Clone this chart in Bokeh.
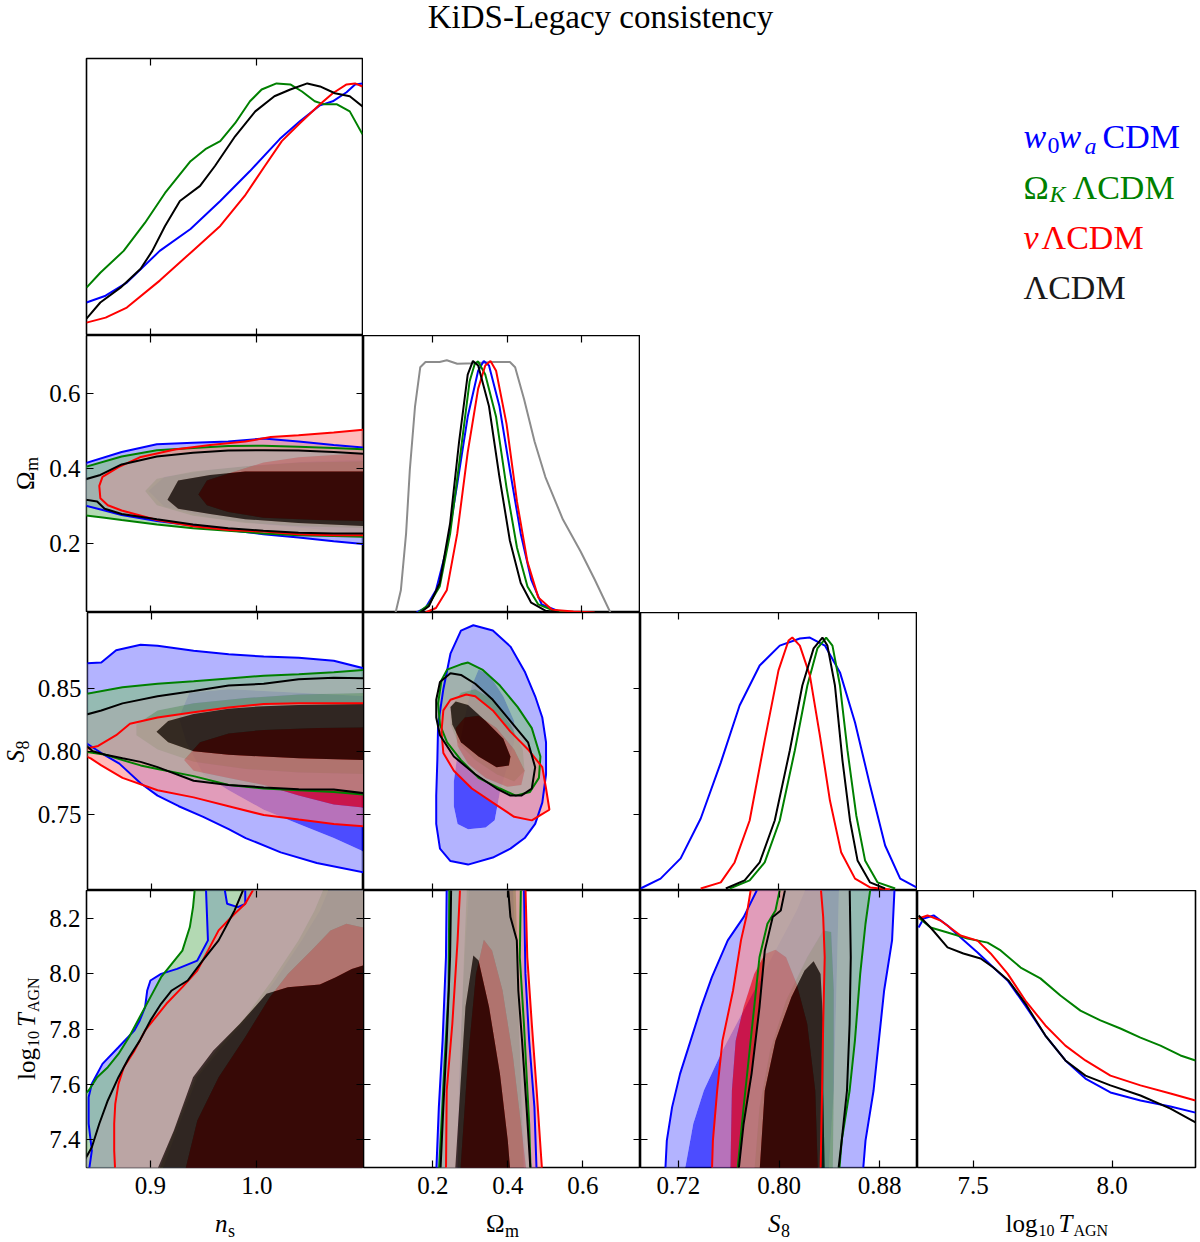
import math
from bokeh.plotting import figure
from bokeh.models import Range1d, LinearAxis, FixedTicker, NumeralTickFormatter, Label, Spacer
from bokeh.layouts import row, column
from bokeh.embed import file_html
from bokeh.resources import INLINE

# ------------------------------------------------------------------ data
TITLE = "KiDS-Legacy consistency"
MODEL_KEYS = ["W0WA", "OK", "NU", "LCDM"]
MODEL_COLORS = ["#0000ff", "#008000", "#ff0000", "#000000"]
MODEL_TINTS = ["#8080ff", "#80c080", "#ff8c8c", "#aaaaaa"]

NS_RANGE = (0.84, 1.10)
OM_RANGE = (0.015, 0.754)
S8_RANGE = (0.690, 0.910)
T_RANGE = (7.30, 8.30)
PDF_RANGE = (0.0, 1.1)

NS_TICKS = [0.9, 1.0]
OM_TICKS = [0.2, 0.4, 0.6]
S8_XTICKS = [0.72, 0.80, 0.88]
S8_YTICKS = [0.75, 0.80, 0.85]
T_YTICKS = [7.4, 7.6, 7.8, 8.0, 8.2]
T_XTICKS = [7.5, 8.0]

# ---- 1D marginals (normalised to peak 1)
PDF_NS_W0WA_X = [0.840, 0.858, 0.878, 0.909, 0.938, 0.966, 0.994, 1.022, 1.041, 1.060, 1.072, 1.085, 1.093, 1.100]
PDF_NS_W0WA_Y = [0.131, 0.158, 0.210, 0.336, 0.423, 0.534, 0.653, 0.780, 0.851, 0.914, 0.930, 0.966, 0.997, 1.001]
PDF_NS_OK_X = [0.840, 0.853, 0.875, 0.895, 0.914, 0.938, 0.952, 0.966, 0.980, 0.994, 1.005, 1.019, 1.032, 1.043, 1.055, 1.064, 1.076, 1.088, 1.100]
PDF_NS_OK_Y = [0.190, 0.249, 0.336, 0.447, 0.566, 0.692, 0.740, 0.772, 0.843, 0.930, 0.977, 1.001, 0.997, 0.969, 0.930, 0.918, 0.918, 0.890, 0.799]
PDF_NS_NU_X = [0.840, 0.858, 0.878, 0.909, 0.940, 0.966, 0.989, 1.008, 1.024, 1.041, 1.060, 1.072, 1.085, 1.093, 1.100]
PDF_NS_NU_Y = [0.051, 0.071, 0.111, 0.218, 0.336, 0.435, 0.554, 0.673, 0.772, 0.843, 0.918, 0.962, 0.997, 1.001, 0.989]
PDF_NS_LCDM_X = [0.840, 0.853, 0.872, 0.891, 0.902, 0.914, 0.928, 0.947, 0.961, 0.980, 0.999, 1.017, 1.032, 1.048, 1.060, 1.074, 1.088, 1.100]
PDF_NS_LCDM_Y = [0.067, 0.131, 0.190, 0.265, 0.336, 0.435, 0.534, 0.594, 0.673, 0.791, 0.890, 0.950, 0.977, 1.001, 0.989, 0.962, 0.950, 0.910]

PRIOR_OM_X = [0.101, 0.115, 0.129, 0.139, 0.153, 0.167, 0.181, 0.219, 0.238, 0.266, 0.313, 0.360, 0.407, 0.421, 0.445, 0.473, 0.502, 0.549, 0.596, 0.634, 0.676]
PRIOR_OM_Y = [0.0, 0.088, 0.313, 0.566, 0.819, 0.974, 0.995, 0.995, 1.002, 0.988, 0.990, 0.995, 0.995, 0.974, 0.847, 0.679, 0.538, 0.369, 0.243, 0.131, 0.0]
PDF_OM_W0WA_X = [0.157, 0.181, 0.209, 0.238, 0.266, 0.294, 0.322, 0.337, 0.351, 0.379, 0.407, 0.436, 0.464, 0.492, 0.539, 0.577]
PDF_OM_W0WA_Y = [0.0, 0.018, 0.088, 0.257, 0.510, 0.777, 0.960, 0.999, 0.981, 0.819, 0.566, 0.313, 0.131, 0.032, 0.004, 0.0]
PDF_OM_OK_X = [0.162, 0.190, 0.219, 0.247, 0.275, 0.299, 0.313, 0.322, 0.341, 0.370, 0.398, 0.426, 0.454, 0.483, 0.530, 0.568]
PDF_OM_OK_Y = [0.0, 0.032, 0.103, 0.313, 0.636, 0.917, 0.988, 0.997, 0.945, 0.777, 0.496, 0.257, 0.103, 0.032, 0.004, 0.0]
PDF_OM_NU_X = [0.181, 0.209, 0.238, 0.266, 0.294, 0.322, 0.341, 0.355, 0.370, 0.398, 0.426, 0.454, 0.483, 0.520, 0.577, 0.634]
PDF_OM_NU_Y = [0.0, 0.018, 0.088, 0.313, 0.636, 0.889, 0.981, 0.999, 0.960, 0.749, 0.440, 0.201, 0.060, 0.011, 0.004, 0.0]
PDF_OM_LCDM_X = [0.167, 0.190, 0.219, 0.247, 0.271, 0.294, 0.308, 0.322, 0.351, 0.379, 0.407, 0.436, 0.464, 0.502, 0.539]
PDF_OM_LCDM_Y = [0.0, 0.025, 0.117, 0.355, 0.679, 0.945, 0.999, 0.981, 0.819, 0.538, 0.285, 0.117, 0.039, 0.007, 0.0]

PDF_S8_W0WA_X = [0.690, 0.706, 0.722, 0.738, 0.754, 0.769, 0.785, 0.801, 0.817, 0.825, 0.837, 0.849, 0.861, 0.873, 0.885, 0.897, 0.910]
PDF_S8_W0WA_Y = [0.008, 0.047, 0.127, 0.285, 0.506, 0.732, 0.890, 0.969, 0.997, 1.001, 0.969, 0.863, 0.665, 0.415, 0.178, 0.047, 0.012]
PDF_S8_OK_X = [0.761, 0.777, 0.789, 0.801, 0.813, 0.823, 0.831, 0.838, 0.843, 0.849, 0.855, 0.862, 0.869, 0.879, 0.893]
PDF_S8_OK_Y = [0.008, 0.040, 0.111, 0.277, 0.554, 0.811, 0.958, 1.001, 0.969, 0.811, 0.554, 0.297, 0.119, 0.032, 0.008]
PDF_S8_NU_X = [0.738, 0.754, 0.765, 0.777, 0.789, 0.800, 0.808, 0.811, 0.817, 0.825, 0.833, 0.841, 0.850, 0.861, 0.873, 0.889]
PDF_S8_NU_Y = [0.008, 0.032, 0.111, 0.277, 0.594, 0.871, 0.989, 1.001, 0.969, 0.851, 0.613, 0.356, 0.150, 0.047, 0.012, 0.004]
PDF_S8_LCDM_X = [0.758, 0.773, 0.785, 0.797, 0.809, 0.819, 0.828, 0.835, 0.839, 0.845, 0.851, 0.857, 0.863, 0.873, 0.885]
PDF_S8_LCDM_Y = [0.008, 0.040, 0.111, 0.277, 0.554, 0.811, 0.958, 1.001, 0.969, 0.811, 0.514, 0.277, 0.119, 0.032, 0.008]

PDF_T_W0WA_X = [7.304, 7.322, 7.358, 7.408, 7.455, 7.516, 7.573, 7.624, 7.688, 7.760, 7.832, 7.904, 7.994, 8.102, 8.210, 8.300]
PDF_T_W0WA_Y = [0.953, 0.989, 1.001, 0.961, 0.913, 0.854, 0.794, 0.743, 0.643, 0.524, 0.425, 0.353, 0.298, 0.266, 0.242, 0.218]
PDF_T_OK_X = [7.304, 7.347, 7.408, 7.480, 7.552, 7.599, 7.671, 7.742, 7.814, 7.886, 7.958, 8.030, 8.102, 8.174, 8.246, 8.300]
PDF_T_OK_Y = [0.993, 0.953, 0.933, 0.909, 0.893, 0.862, 0.794, 0.751, 0.683, 0.623, 0.584, 0.552, 0.516, 0.484, 0.445, 0.425]
PDF_T_NU_X = [7.304, 7.336, 7.383, 7.455, 7.516, 7.563, 7.624, 7.688, 7.760, 7.832, 7.904, 7.994, 8.102, 8.210, 8.300]
PDF_T_NU_Y = [0.989, 1.001, 0.981, 0.921, 0.901, 0.850, 0.770, 0.663, 0.564, 0.484, 0.425, 0.365, 0.326, 0.294, 0.266]
PDF_T_LCDM_X = [7.304, 7.347, 7.408, 7.465, 7.527, 7.573, 7.627, 7.688, 7.760, 7.832, 7.904, 7.994, 8.102, 8.210, 8.300]
PDF_T_LCDM_Y = [1.001, 0.953, 0.874, 0.850, 0.830, 0.794, 0.743, 0.651, 0.524, 0.425, 0.365, 0.326, 0.286, 0.234, 0.179]

# ---- 2D credible regions (95% and 68%); points past the axis limits close open contours
NS_OM_W0WA_95_X = [0.835, 0.873, 0.906, 0.940, 0.973, 1.006, 1.039, 1.072, 1.105, 1.105, 1.072, 1.039, 1.006, 0.973, 0.940, 0.906, 0.873, 0.857, 0.835]
NS_OM_W0WA_95_Y = [0.410, 0.443, 0.464, 0.468, 0.471, 0.479, 0.471, 0.462, 0.454, 0.196, 0.205, 0.215, 0.224, 0.235, 0.247, 0.259, 0.275, 0.287, 0.303]
NS_OM_OK_95_X = [0.835, 0.873, 0.906, 0.940, 0.973, 1.006, 1.039, 1.072, 1.105, 1.105, 1.072, 1.039, 1.006, 0.973, 0.940, 0.906, 0.873, 0.857, 0.835]
NS_OM_OK_95_Y = [0.400, 0.431, 0.448, 0.454, 0.459, 0.460, 0.457, 0.454, 0.450, 0.217, 0.219, 0.221, 0.226, 0.233, 0.240, 0.250, 0.262, 0.268, 0.275]
NS_OM_NU_95_X = [0.852, 0.855, 0.870, 0.890, 0.923, 0.956, 0.989, 1.013, 1.039, 1.072, 1.105, 1.105, 1.072, 1.039, 1.006, 0.973, 0.940, 0.906, 0.873, 0.860, 0.853]
NS_OM_NU_95_Y = [0.353, 0.377, 0.403, 0.429, 0.450, 0.462, 0.471, 0.483, 0.488, 0.495, 0.504, 0.221, 0.221, 0.224, 0.231, 0.235, 0.245, 0.262, 0.287, 0.301, 0.320]
NS_OM_LCDM_95_X = [0.835, 0.853, 0.873, 0.906, 0.940, 0.973, 1.006, 1.039, 1.072, 1.105, 1.105, 1.072, 1.039, 1.006, 0.973, 0.940, 0.906, 0.873, 0.857, 0.850, 0.835]
NS_OM_LCDM_95_Y = [0.367, 0.382, 0.410, 0.431, 0.441, 0.447, 0.448, 0.447, 0.443, 0.438, 0.226, 0.226, 0.228, 0.233, 0.240, 0.250, 0.264, 0.278, 0.292, 0.311, 0.318]
NS_OM_W0WA_68_X = [0.898, 0.913, 0.956, 1.006, 1.056, 1.105, 1.105, 1.056, 1.006, 0.956, 0.913]
NS_OM_W0WA_68_Y = [0.339, 0.377, 0.396, 0.410, 0.419, 0.424, 0.226, 0.237, 0.250, 0.268, 0.297]
NS_OM_OK_68_X = [0.895, 0.906, 0.940, 0.989, 1.039, 1.105, 1.105, 1.039, 0.989, 0.940, 0.906]
NS_OM_OK_68_Y = [0.339, 0.372, 0.391, 0.405, 0.415, 0.419, 0.240, 0.245, 0.254, 0.273, 0.301]
NS_OM_NU_68_X = [0.945, 0.953, 0.973, 1.006, 1.039, 1.072, 1.105, 1.105, 1.056, 1.006, 0.973, 0.953]
NS_OM_NU_68_Y = [0.330, 0.367, 0.386, 0.415, 0.429, 0.435, 0.441, 0.259, 0.262, 0.268, 0.283, 0.301]
NS_OM_LCDM_68_X = [0.916, 0.926, 0.956, 0.989, 1.039, 1.105, 1.105, 1.039, 0.989, 0.956, 0.926]
NS_OM_LCDM_68_Y = [0.316, 0.367, 0.382, 0.391, 0.391, 0.391, 0.245, 0.254, 0.264, 0.278, 0.292]

NS_S8_W0WA_95_X = [0.835, 0.853, 0.867, 0.890, 0.906, 0.940, 0.973, 1.006, 1.039, 1.072, 1.105, 1.105, 1.056, 1.022, 0.989, 0.973, 0.949, 0.926, 0.906, 0.890, 0.870, 0.853, 0.835]
NS_S8_W0WA_95_Y = [0.8696, 0.8704, 0.8802, 0.8844, 0.8836, 0.8797, 0.8769, 0.8752, 0.8741, 0.8718, 0.8648, 0.7036, 0.7118, 0.7202, 0.7315, 0.7385, 0.7483, 0.7567, 0.7651, 0.7749, 0.7904, 0.7988, 0.8087]
NS_S8_OK_95_X = [0.835, 0.873, 0.906, 0.940, 0.973, 1.006, 1.039, 1.072, 1.105, 1.105, 1.072, 1.039, 1.006, 0.973, 0.940, 0.906, 0.890, 0.873, 0.857, 0.835]
NS_S8_OK_95_Y = [0.8451, 0.8508, 0.8536, 0.8555, 0.8578, 0.8600, 0.8611, 0.8628, 0.8648, 0.7657, 0.7679, 0.7693, 0.7707, 0.7735, 0.7805, 0.7862, 0.7890, 0.7932, 0.7974, 0.8002]
NS_S8_NU_95_X = [0.835, 0.850, 0.867, 0.880, 0.906, 0.940, 0.973, 1.006, 1.039, 1.072, 1.105, 1.105, 1.072, 1.039, 1.006, 0.973, 0.940, 0.906, 0.873, 0.853, 0.843, 0.835]
NS_S8_NU_95_Y = [0.8016, 0.8044, 0.8129, 0.8219, 0.8269, 0.8311, 0.8348, 0.8376, 0.8381, 0.8381, 0.8381, 0.7405, 0.7427, 0.7461, 0.7497, 0.7567, 0.7637, 0.7693, 0.7791, 0.7890, 0.7946, 0.7974]
NS_S8_LCDM_95_X = [0.835, 0.853, 0.873, 0.906, 0.940, 0.973, 1.006, 1.039, 1.072, 1.105, 1.105, 1.072, 1.039, 1.006, 0.973, 0.940, 0.906, 0.890, 0.873, 0.857, 0.845, 0.835]
NS_S8_LCDM_95_Y = [0.8283, 0.8325, 0.8381, 0.8437, 0.8479, 0.8522, 0.8536, 0.8572, 0.8584, 0.8578, 0.7665, 0.7699, 0.7702, 0.7716, 0.7735, 0.7769, 0.7876, 0.7918, 0.7946, 0.7974, 0.8002, 0.8073]
NS_S8_W0WA_68_X = [0.926, 0.936, 0.973, 1.006, 1.039, 1.105, 1.105, 1.072, 1.039, 1.006, 0.973, 0.949, 0.933]
NS_S8_W0WA_68_Y = [0.8269, 0.8465, 0.8493, 0.8479, 0.8465, 0.8437, 0.7189, 0.7315, 0.7427, 0.7539, 0.7693, 0.7820, 0.8073]
NS_S8_OK_68_X = [0.886, 0.906, 0.940, 0.989, 1.039, 1.105, 1.105, 1.039, 0.989, 0.940, 0.906, 0.886]
NS_S8_OK_68_Y = [0.8213, 0.8325, 0.8381, 0.8423, 0.8451, 0.8465, 0.7820, 0.7834, 0.7862, 0.7918, 0.8016, 0.8129]
NS_S8_NU_68_X = [0.931, 0.946, 0.973, 1.006, 1.056, 1.105, 1.105, 1.072, 1.039, 1.006, 0.973, 0.940]
NS_S8_NU_68_Y = [0.7932, 0.8073, 0.8143, 0.8171, 0.8185, 0.8190, 0.7553, 0.7581, 0.7651, 0.7735, 0.7791, 0.7848]
NS_S8_LCDM_68_X = [0.905, 0.916, 0.940, 0.973, 1.006, 1.039, 1.105, 1.105, 1.039, 1.006, 0.973, 0.940, 0.916]
NS_S8_LCDM_68_Y = [0.8157, 0.8241, 0.8297, 0.8339, 0.8359, 0.8367, 0.8376, 0.7932, 0.7946, 0.7960, 0.7974, 0.8002, 0.8073]

OM_S8_W0WA_95_X = [0.308, 0.360, 0.407, 0.445, 0.473, 0.492, 0.502, 0.502, 0.492, 0.473, 0.445, 0.407, 0.360, 0.294, 0.247, 0.219, 0.209, 0.209, 0.212, 0.214, 0.228, 0.247, 0.275]
OM_S8_W0WA_95_Y = [0.8999, 0.8957, 0.8830, 0.8634, 0.8437, 0.8269, 0.8073, 0.7820, 0.7595, 0.7427, 0.7315, 0.7231, 0.7161, 0.7105, 0.7133, 0.7231, 0.7427, 0.7651, 0.7932, 0.8213, 0.8493, 0.8774, 0.8957]
OM_S8_OK_95_X = [0.223, 0.238, 0.275, 0.294, 0.332, 0.379, 0.426, 0.464, 0.487, 0.483, 0.459, 0.421, 0.379, 0.322, 0.275, 0.238, 0.219, 0.214]
OM_S8_OK_95_Y = [0.8564, 0.8648, 0.8690, 0.8704, 0.8648, 0.8522, 0.8353, 0.8185, 0.7960, 0.7791, 0.7679, 0.7651, 0.7707, 0.7791, 0.7932, 0.8073, 0.8213, 0.8381]
OM_S8_NU_95_X = [0.228, 0.247, 0.289, 0.313, 0.360, 0.407, 0.454, 0.492, 0.502, 0.511, 0.487, 0.464, 0.417, 0.360, 0.304, 0.256, 0.228, 0.223]
OM_S8_NU_95_Y = [0.8325, 0.8409, 0.8451, 0.8437, 0.8325, 0.8157, 0.8016, 0.7876, 0.7707, 0.7539, 0.7497, 0.7455, 0.7483, 0.7595, 0.7707, 0.7848, 0.7988, 0.8157]
OM_S8_LCDM_95_X = [0.209, 0.219, 0.247, 0.275, 0.313, 0.360, 0.407, 0.454, 0.473, 0.464, 0.436, 0.407, 0.370, 0.313, 0.256, 0.219, 0.209]
OM_S8_LCDM_95_Y = [0.8409, 0.8550, 0.8620, 0.8606, 0.8536, 0.8409, 0.8241, 0.8073, 0.7876, 0.7707, 0.7651, 0.7651, 0.7707, 0.7820, 0.7960, 0.8129, 0.8269]
OM_S8_W0WA_68_X = [0.322, 0.351, 0.388, 0.417, 0.417, 0.398, 0.379, 0.365, 0.341, 0.294, 0.266, 0.256, 0.256, 0.266, 0.285, 0.304]
OM_S8_W0WA_68_Y = [0.8648, 0.8606, 0.8437, 0.8241, 0.8073, 0.7876, 0.7679, 0.7455, 0.7399, 0.7385, 0.7427, 0.7567, 0.7763, 0.7988, 0.8269, 0.8522]
OM_S8_OK_68_X = [0.247, 0.275, 0.313, 0.360, 0.407, 0.440, 0.445, 0.417, 0.370, 0.313, 0.266, 0.247]
OM_S8_OK_68_Y = [0.8353, 0.8465, 0.8493, 0.8409, 0.8213, 0.8016, 0.7848, 0.7763, 0.7820, 0.7932, 0.8073, 0.8213]
OM_S8_NU_68_X = [0.261, 0.285, 0.322, 0.370, 0.417, 0.445, 0.436, 0.398, 0.341, 0.294, 0.266]
OM_S8_NU_68_Y = [0.8185, 0.8269, 0.8283, 0.8185, 0.8016, 0.7848, 0.7735, 0.7721, 0.7791, 0.7904, 0.8044]
OM_S8_LCDM_68_X = [0.247, 0.261, 0.294, 0.341, 0.388, 0.407, 0.403, 0.370, 0.322, 0.275, 0.252]
OM_S8_LCDM_68_Y = [0.8353, 0.8395, 0.8367, 0.8241, 0.8101, 0.7960, 0.7890, 0.7876, 0.7960, 0.8073, 0.8213]

NS_T_W0WA_95_X = [1.105, 0.989, 0.989, 0.982, 0.972, 0.969, 0.952, 0.954, 0.944, 0.925, 0.910, 0.900, 0.897, 0.895, 0.890, 0.885, 0.870, 0.855, 0.845, 0.842, 0.842, 0.845, 0.842, 1.105]
NS_T_W0WA_95_Y = [8.32, 8.32, 8.252, 8.240, 8.252, 8.32, 8.32, 8.120, 8.047, 8.017, 7.999, 7.975, 7.939, 7.879, 7.831, 7.795, 7.734, 7.674, 7.602, 7.554, 7.458, 7.361, 7.28, 7.28]
NS_T_OK_95_X = [0.942, 0.940, 0.937, 0.930, 0.920, 0.910, 0.900, 0.890, 0.880, 0.870, 0.860, 0.850, 0.842, 0.835, 0.835, 1.105, 1.105]
NS_T_OK_95_Y = [8.32, 8.240, 8.168, 8.083, 8.035, 7.987, 7.915, 7.843, 7.771, 7.710, 7.662, 7.626, 7.578, 7.554, 7.28, 7.28, 8.32]
NS_T_NU_95_X = [0.999, 0.989, 0.979, 0.964, 0.954, 0.944, 0.930, 0.915, 0.905, 0.895, 0.885, 0.875, 0.870, 0.867, 0.866, 0.866, 0.867, 1.105, 1.105]
NS_T_NU_95_Y = [8.32, 8.252, 8.216, 8.156, 8.083, 8.011, 7.951, 7.891, 7.843, 7.795, 7.722, 7.662, 7.602, 7.530, 7.458, 7.361, 7.28, 7.28, 8.32]
NS_T_LCDM_95_X = [0.989, 0.979, 0.964, 0.949, 0.935, 0.920, 0.910, 0.900, 0.890, 0.880, 0.870, 0.860, 0.852, 0.845, 0.838, 0.835, 1.105, 1.105]
NS_T_LCDM_95_Y = [8.32, 8.228, 8.120, 8.047, 7.975, 7.939, 7.891, 7.831, 7.758, 7.698, 7.626, 7.542, 7.458, 7.373, 7.325, 7.28, 7.28, 8.32]
NS_T_W0WA_68_X = [0.910, 0.927, 0.944, 0.967, 0.992, 1.017, 1.042, 1.059, 1.069, 1.105, 1.105]
NS_T_W0WA_68_Y = [7.28, 7.458, 7.626, 7.734, 7.843, 7.975, 8.120, 8.228, 8.32, 8.32, 7.28]
NS_T_OK_68_X = [0.907, 0.925, 0.942, 0.964, 0.989, 1.014, 1.039, 1.054, 1.064, 1.105, 1.105]
NS_T_OK_68_Y = [7.28, 7.458, 7.626, 7.734, 7.843, 7.975, 8.120, 8.228, 8.32, 8.32, 7.28]
NS_T_NU_68_X = [0.932, 0.944, 0.964, 0.989, 1.012, 1.029, 1.054, 1.069, 1.084, 1.105, 1.105]
NS_T_NU_68_Y = [7.28, 7.470, 7.626, 7.771, 7.915, 7.999, 8.095, 8.156, 8.180, 8.162, 7.28]
NS_T_LCDM_68_X = [0.905, 0.922, 0.940, 0.959, 0.984, 1.009, 1.029, 1.059, 1.074, 1.089, 1.105, 1.105]
NS_T_LCDM_68_Y = [7.28, 7.434, 7.626, 7.722, 7.819, 7.927, 7.951, 7.961, 7.987, 8.017, 8.035, 7.28]

OM_T_W0WA_95_X = [0.237, 0.235, 0.226, 0.216, 0.209, 0.477, 0.471, 0.457, 0.447, 0.443]
OM_T_W0WA_95_Y = [8.32, 8.059, 7.758, 7.518, 7.28, 7.28, 7.518, 7.758, 7.999, 8.32]
OM_T_OK_95_X = [0.244, 0.242, 0.232, 0.223, 0.216, 0.461, 0.457, 0.443, 0.432, 0.435]
OM_T_OK_95_Y = [8.32, 7.939, 7.698, 7.458, 7.28, 7.28, 7.458, 7.819, 8.059, 8.32]
OM_T_NU_95_X = [0.273, 0.266, 0.252, 0.237, 0.235, 0.492, 0.489, 0.477, 0.464, 0.452, 0.447]
OM_T_NU_95_Y = [8.32, 8.120, 7.819, 7.578, 7.28, 7.28, 7.337, 7.578, 7.819, 8.059, 8.32]
OM_T_LCDM_95_X = [0.249, 0.246, 0.237, 0.228, 0.220, 0.461, 0.450, 0.438, 0.428, 0.424, 0.407, 0.400]
OM_T_LCDM_95_Y = [8.32, 8.059, 7.758, 7.518, 7.28, 7.28, 7.518, 7.758, 7.939, 8.120, 8.204, 8.32]
OM_T_W0WA_68_X = [0.263, 0.273, 0.287, 0.297, 0.414, 0.424, 0.438, 0.450]
OM_T_W0WA_68_Y = [7.28, 7.758, 8.120, 8.32, 8.32, 7.939, 7.578, 7.28]
OM_T_OK_68_X = [0.266, 0.273, 0.283, 0.291, 0.421, 0.428, 0.435, 0.443]
OM_T_OK_68_Y = [7.28, 7.698, 8.059, 8.32, 8.32, 7.939, 7.578, 7.28]
OM_T_NU_68_X = [0.273, 0.294, 0.315, 0.336, 0.358, 0.386, 0.414, 0.435, 0.450]
OM_T_NU_68_Y = [7.28, 7.698, 7.999, 8.122, 8.083, 7.939, 7.698, 7.458, 7.28]
OM_T_LCDM_68_X = [0.259, 0.273, 0.287, 0.308, 0.322, 0.350, 0.379, 0.400, 0.407]
OM_T_LCDM_68_Y = [7.28, 7.578, 7.879, 8.065, 8.047, 7.879, 7.638, 7.397, 7.28]

S8_T_W0WA_95_X = [0.7845, 0.7719, 0.7593, 0.7467, 0.7382, 0.7298, 0.7214, 0.7151, 0.7109, 0.7096, 0.8666, 0.8687, 0.8751, 0.8793, 0.8835, 0.8898, 0.8919]
S8_T_W0WA_95_Y = [8.32, 8.204, 8.120, 7.987, 7.879, 7.758, 7.638, 7.518, 7.397, 7.28, 7.28, 7.397, 7.578, 7.758, 7.939, 8.120, 8.32]
S8_T_OK_95_X = [0.8014, 0.7972, 0.7908, 0.7845, 0.7803, 0.7761, 0.7719, 0.7668, 0.8477, 0.8498, 0.8561, 0.8603, 0.8645, 0.8687, 0.8730]
S8_T_OK_95_Y = [8.32, 8.228, 8.180, 8.059, 7.879, 7.698, 7.518, 7.28, 7.28, 7.397, 7.578, 7.758, 7.999, 8.180, 8.32]
S8_T_NU_95_X = [0.7782, 0.7740, 0.7698, 0.7635, 0.7551, 0.7509, 0.7475, 0.7467, 0.8330, 0.8342, 0.8351, 0.8363, 0.8351, 0.8330]
S8_T_NU_95_Y = [8.32, 8.204, 8.120, 7.939, 7.758, 7.578, 7.397, 7.28, 7.28, 7.578, 7.819, 8.059, 8.204, 8.32]
S8_T_LCDM_95_X = [0.8056, 0.8014, 0.7950, 0.7887, 0.7845, 0.7782, 0.7719, 0.7677, 0.8469, 0.8498, 0.8540, 0.8561, 0.8570, 0.8561]
S8_T_LCDM_95_Y = [8.32, 8.228, 8.204, 8.083, 7.879, 7.638, 7.458, 7.28, 7.28, 7.397, 7.578, 7.819, 8.059, 8.32]
S8_T_W0WA_68_X = [0.7248, 0.7319, 0.7403, 0.7551, 0.7719, 0.7887, 0.8056, 0.8140, 0.8224, 0.8477, 0.8456, 0.8435, 0.8393]
S8_T_W0WA_68_Y = [7.28, 7.458, 7.578, 7.722, 7.867, 8.011, 8.156, 8.228, 8.32, 8.32, 7.939, 7.578, 7.28]
S8_T_OK_68_X = [0.7803, 0.7845, 0.7929, 0.8056, 0.8224, 0.8351, 0.8414, 0.8435, 0.8435, 0.8427]
S8_T_OK_68_Y = [7.28, 7.518, 7.722, 7.903, 8.059, 8.156, 8.150, 7.939, 7.578, 7.28]
S8_T_NU_68_X = [0.7614, 0.7626, 0.7656, 0.7719, 0.7803, 0.7887, 0.7972, 0.8056, 0.8140, 0.8224, 0.8288, 0.8309]
S8_T_NU_68_Y = [7.28, 7.578, 7.758, 7.879, 7.999, 8.071, 8.086, 8.059, 7.963, 7.819, 7.578, 7.28]
S8_T_LCDM_68_X = [0.7845, 0.7887, 0.7972, 0.8098, 0.8203, 0.8275, 0.8330, 0.8351, 0.8351, 0.8363]
S8_T_LCDM_68_Y = [7.28, 7.578, 7.758, 7.915, 8.011, 8.045, 7.999, 7.819, 7.578, 7.28]

# axis titles as (text, font size, style, offset along text, drop below baseline)
NS_LABEL = [("n", 25, "italic", -10, 0), ("s", 18, "normal", 3, 7)]
OM_LABEL = [("Ω", 25, "normal", -16, 0), ("m", 18, "normal", 3, 7)]
S8_LABEL = [("S", 25, "italic", -11, 0), ("8", 18, "normal", 2, 7)]
T_LABEL = [("log", 25, "normal", -51, 0), ("10", 16, "normal", -18, 7),
           ("T", 25, "italic", 2, 0), ("AGN", 16, "normal", 17, 7)]

# ------------------------------------------------------------------ style
FONT = "Liberation Serif"
A95 = 0.6
A68 = 0.7
G = globals()


def panel(xr, yr, w, h, left=0, right=0, top=0, bottom=0):
    p = figure(width=w, height=h, x_range=Range1d(*xr), y_range=Range1d(*yr),
               x_axis_location=None, y_axis_location=None, toolbar_location=None,
               output_backend="svg", min_border_left=left, min_border_right=right,
               min_border_top=top, min_border_bottom=bottom)
    p.grid.visible = False
    p.outline_line_color = "black"
    p.outline_line_width = 1.6
    p.background_fill_color = "white"
    p.border_fill_color = "white"
    return p


def strip(w, h, left=0, right=0, top=0, bottom=0):
    s = figure(width=w, height=h, x_range=Range1d(0, w - left - right),
               y_range=Range1d(0, h - top - bottom),
               x_axis_location=None, y_axis_location=None, toolbar_location=None,
               output_backend="svg", min_border_left=left, min_border_right=right,
               min_border_top=top, min_border_bottom=bottom)
    s.grid.visible = False
    s.outline_line_color = None
    s.background_fill_color = "white"
    s.border_fill_color = "white"
    return s


def add_ticks(p, side, ticks, labeled=False, fmt="0.0"):
    ax = LinearAxis(ticker=FixedTicker(ticks=ticks), axis_line_color=None,
                    major_tick_in=7, major_tick_out=0, major_tick_line_color="black",
                    major_tick_line_width=1.2, minor_tick_line_color=None)
    if labeled:
        ax.formatter = NumeralTickFormatter(format=fmt)
        ax.major_label_text_font = FONT
        ax.major_label_text_font_size = "25px"
        ax.major_label_text_color = "black"
        ax.major_label_standoff = 6 if side == "left" else 9
    else:
        ax.major_label_text_color = None
        xr, yr = p.x_range, p.y_range
        ax.fixed_location = {"below": yr.start, "above": yr.end,
                             "left": xr.start, "right": xr.end}[side]
    p.add_layout(ax, side)


def txt(p, x, y, text, size, style="normal", dx=0, dy=0, angle=0, color="black", align="left"):
    p.add_layout(Label(x=x, y=y, text=text, text_font=FONT, text_font_size=f"{size}px",
                       text_font_style=style, text_color=color, x_offset=dx, y_offset=dy,
                       angle=angle, text_align=align, text_baseline="middle"))


def hlabel(s, xc, yc, pieces):
    for t, size, st, d, drop in pieces:
        txt(s, xc, yc, t, size, st, dx=d, dy=-drop)


def vlabel(s, xc, yc, pieces):
    for t, size, st, d, drop in pieces:
        txt(s, xc, yc, t, size, st, dx=drop, dy=d, angle=math.pi / 2)


def draw_2d(p, name):
    for key, col, tint in zip(MODEL_KEYS, MODEL_COLORS, MODEL_TINTS):
        x95, y95 = G[f"{name}_{key}_95_X"], G[f"{name}_{key}_95_Y"]
        x68, y68 = G[f"{name}_{key}_68_X"], G[f"{name}_{key}_68_Y"]
        p.multi_polygons(xs=[[[x95, x68]]], ys=[[[y95, y68]]],
                         fill_color=tint, fill_alpha=A95, line_color=None)
        p.patch(x68, y68, fill_color=col, fill_alpha=A68, line_color=None)
    for key, col in zip(MODEL_KEYS, MODEL_COLORS):
        p.patch(G[f"{name}_{key}_95_X"], G[f"{name}_{key}_95_Y"],
                fill_color=None, line_color=col, line_width=2)


def draw_1d(p, name):
    for key, col in zip(MODEL_KEYS, MODEL_COLORS):
        p.line(G[f"{name}_{key}_X"], G[f"{name}_{key}_Y"], line_color=col, line_width=2)


# ------------------------------------------------------------------ title strip
title_fig = strip(1200, 57)
txt(title_fig, 600, 41, TITLE, 33, align="center")

# ------------------------------------------------------------------ row 1
f_ns = panel(NS_RANGE, PDF_RANGE, 319, 278, left=42, right=1, top=1)
draw_1d(f_ns, "PDF_NS")
add_ticks(f_ns, "below", NS_TICKS)
add_ticks(f_ns, "above", NS_TICKS)

leg = strip(837, 278, top=1)
txt(leg, 660, 199, "w", 34, "italic", color=MODEL_COLORS[0])
txt(leg, 684, 190, "0", 24, color=MODEL_COLORS[0])
txt(leg, 695, 199, "w", 34, "italic", color=MODEL_COLORS[0])
txt(leg, 721, 190, "a", 24, "italic", color=MODEL_COLORS[0])
txt(leg, 739, 199, "CDM", 34, color=MODEL_COLORS[0])
txt(leg, 660, 148.5, "Ω", 34, color=MODEL_COLORS[1])
txt(leg, 686, 141.5, "K", 24, "italic", color=MODEL_COLORS[1])
txt(leg, 709, 148.5, "ΛCDM", 34, color=MODEL_COLORS[1])
txt(leg, 660, 98.5, "ν", 34, "italic", color=MODEL_COLORS[2])
txt(leg, 678, 98.5, "ΛCDM", 34, color=MODEL_COLORS[2])
txt(leg, 660, 48.5, "ΛCDM", 34, color="#1a1a1a")

row1 = row(Spacer(width=44, height=278), f_ns, leg)

# ------------------------------------------------------------------ row 2
s2 = strip(44, 277)
vlabel(s2, 24.5, 138.5, OM_LABEL)

f_a = panel(NS_RANGE, OM_RANGE, 319, 277, left=42)
draw_2d(f_a, "NS_OM")
add_ticks(f_a, "left", OM_TICKS, labeled=True, fmt="0.0")
add_ticks(f_a, "right", OM_TICKS)
add_ticks(f_a, "below", NS_TICKS)
add_ticks(f_a, "above", NS_TICKS)

f_d = panel(OM_RANGE, PDF_RANGE, 277, 277, right=1)
f_d.line(PRIOR_OM_X, PRIOR_OM_Y, line_color="#8c8c8c", line_width=2)
draw_1d(f_d, "PDF_OM")
add_ticks(f_d, "below", OM_TICKS)
add_ticks(f_d, "above", OM_TICKS)

row2 = row(s2, f_a, f_d, Spacer(width=560, height=277))

# ------------------------------------------------------------------ row 3
s3 = strip(34, 278)
vlabel(s3, 14.5, 139, S8_LABEL)

f_b = panel(NS_RANGE, S8_RANGE, 329, 278, left=52)
draw_2d(f_b, "NS_S8")
add_ticks(f_b, "left", S8_YTICKS, labeled=True, fmt="0.00")
add_ticks(f_b, "right", S8_YTICKS)
add_ticks(f_b, "below", NS_TICKS)
add_ticks(f_b, "above", NS_TICKS)

f_c = panel(OM_RANGE, S8_RANGE, 277, 278)
draw_2d(f_c, "OM_S8")
add_ticks(f_c, "left", S8_YTICKS)
add_ticks(f_c, "right", S8_YTICKS)
add_ticks(f_c, "below", OM_TICKS)
add_ticks(f_c, "above", OM_TICKS)

f_f = panel(S8_RANGE, PDF_RANGE, 277, 278, right=1)
draw_1d(f_f, "PDF_S8")
add_ticks(f_f, "below", S8_XTICKS)
add_ticks(f_f, "above", S8_XTICKS)

row3 = row(s3, f_b, f_c, f_f, Spacer(width=283, height=278))

# ------------------------------------------------------------------ row 4
s4 = strip(44, 319, bottom=42)
vlabel(s4, 26, 138.5, T_LABEL)

f_g = panel(NS_RANGE, T_RANGE, 319, 319, left=42, bottom=42)
draw_2d(f_g, "NS_T")
add_ticks(f_g, "left", T_YTICKS, labeled=True, fmt="0.0")
add_ticks(f_g, "right", T_YTICKS)
add_ticks(f_g, "below", NS_TICKS, labeled=True, fmt="0.0")
add_ticks(f_g, "above", NS_TICKS)

f_h = panel(OM_RANGE, T_RANGE, 277, 319, bottom=42)
draw_2d(f_h, "OM_T")
add_ticks(f_h, "left", T_YTICKS)
add_ticks(f_h, "right", T_YTICKS)
add_ticks(f_h, "below", OM_TICKS, labeled=True, fmt="0.0")
add_ticks(f_h, "above", OM_TICKS)

f_i = panel(S8_RANGE, T_RANGE, 277, 319, bottom=42)
draw_2d(f_i, "S8_T")
add_ticks(f_i, "left", T_YTICKS)
add_ticks(f_i, "right", T_YTICKS)
add_ticks(f_i, "below", S8_XTICKS, labeled=True, fmt="0.00")
add_ticks(f_i, "above", S8_XTICKS)

f_j = panel(T_RANGE, PDF_RANGE, 283, 319, right=5, bottom=42)
draw_1d(f_j, "PDF_T")
add_ticks(f_j, "below", T_XTICKS, labeled=True, fmt="0.0")
add_ticks(f_j, "above", T_XTICKS)

row4 = row(s4, f_g, f_h, f_i, f_j)

# ------------------------------------------------------------------ x-axis titles
xt = strip(1200, 33)
hlabel(xt, 224.5, 19, NS_LABEL)
hlabel(xt, 501.5, 19, OM_LABEL)
hlabel(xt, 778.5, 19, S8_LABEL)
hlabel(xt, 1056, 19, T_LABEL)

layout = column(title_fig, row1, row2, row3, row4, xt)

open("out.html", "w").write(file_html(layout, INLINE))
